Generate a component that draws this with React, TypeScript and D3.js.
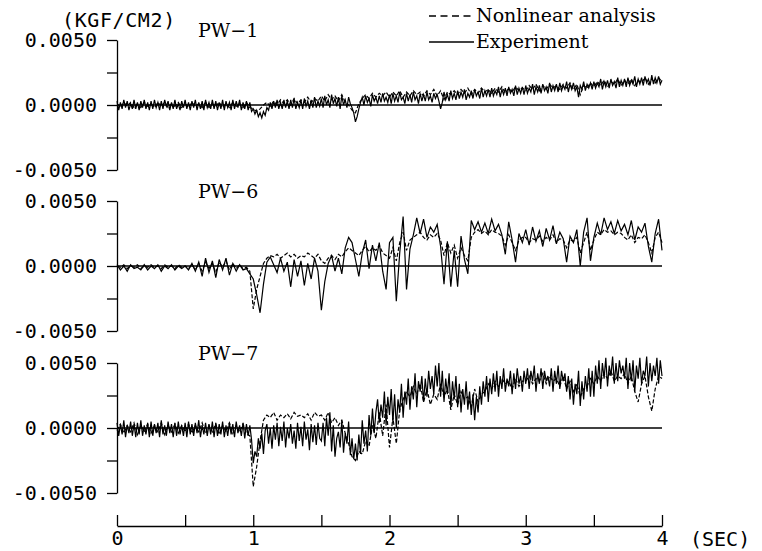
import React, { useEffect, useRef } from 'react';
import * as d3 from 'd3';

// every series is sampled evenly over 0 ... 4 s (experiment records at 0.0125 s
// for PW-1 and PW-7, the rest at 0.025 s)
const T_END = 4;
const xTicks = [0, 0.5, 1, 1.5, 2, 2.5, 3, 3.5, 4];
const xLabels = ['0', '', '1', '', '2', '', '3', '', '4'];
// values are in 1e-4 kgf/cm2
const yTicks = [-50, -25, 0, 25, 50];

const pw1Experiment = [
  3, -4, 2, -3, 4, -2, 3, -4, 1, -3, 4, -3, 2, -4, 3, -2, 4, -3, 2, -4,
  3, -3, 4, -2, 2, -4, 3, -3, 4, -1, 3, -4, 2, -3, 4, -3, 1, -4, 3, -2,
  4, -3, 2, -4, 3, -2, 4, -4, 2, -3, 3, -4, 4, -2, 2, -3, 4, -3, 3, -4,
  2, -3, 4, -4, 3, -2, 2, -4, 4, -3, 3, -2, 4, -4, 2, -3, 3, -4, 2, -5,
  -3, -7, -4, -9, -6, -10, -5, -8, -2, -4, 2, -3, 3, -2, 4, -3, 2, -3, 4, -2,
  3, -3, 4, -2, 5, -3, 2, -2, 4, -3, 5, -1, 3, -3, 4, -2, 6, -2, 3, -1,
  5, -2, 7, 0, 4, -2, 8, 1, 5, -1, 6, -3, 7, 0, 4, -2, 6, 1, -2, -6,
  -13, -9, -3, 2, 6, 0, 7, 2, 5, -1, 8, 3, 6, 1, 7, 2, 9, 3, 6, 2,
  8, 1, 9, 3, 7, 2, 10, 4, 6, 1, 9, 3, 8, 2, 10, 4, 7, 1, 9, 3,
  8, 3, 10, 4, 7, 2, 9, 5, 8, 3, -3, 2, 10, 4, 8, 3, 11, 5, 9, 4,
  11, 5, 10, 6, 12, 4, 9, 6, 11, 5, 12, 7, 10, 5, 13, 6, 11, 7, 12, 6,
  13, 7, 11, 8, 14, 6, 12, 8, 13, 7, 14, 9, 12, 7, 15, 8, 13, 9, 14, 8,
  15, 9, 13, 10, 16, 8, 14, 10, 15, 9, 16, 11, 14, 9, 17, 10, 15, 11, 16, 10,
  17, 11, 15, 12, 18, 10, 16, 12, 17, 11, 14, 6, 15, 12, 18, 11, 16, 13, 17, 12,
  18, 13, 17, 14, 20, 12, 18, 14, 19, 13, 20, 15, 18, 13, 21, 14, 19, 15, 20, 14,
  21, 15, 19, 16, 22, 14, 20, 16, 21, 15, 22, 17, 20, 15, 23, 16, 21, 17, 22, 16,
  19,
];

const pw1Analysis = [
  1, -2, 2, -1, 2, -2, 1, -2, 2, -1, 1, -2, 2, -1, 2, -2, 1, -1, 2, -2,
  1, -2, 2, -1, 1, -2, 2, -2, 1, -1, 2, -2, 1, -2, 2, -1, 1, -2, 2, -2,
  -3, -5, -3, 0, 2, -1, 3, 0, 4, 1, 4, 0, 5, 1, 4, 2, 6, 2, 5, 3,
  7, 3, 8, 4, 7, 3, 8, 2, 0, -4, -6, 1, 5, 8, 5, 9, 6, 9, 7, 10,
  6, 10, 7, 11, 6, 10, 7, 11, 8, 10, 7, 11, 8, 12, 7, 11, 4, 10, 8, 11,
  8, 12, 9, 13, 8, 12, 9, 13, 10, 12, 9, 13, 10, 14, 9, 13, 10, 14, 11, 13,
  11, 15, 12, 16, 11, 15, 12, 16, 13, 15, 12, 16, 13, 17, 12, 16, 8, 15, 13, 17,
  14, 18, 15, 19, 14, 18, 16, 20, 15, 19, 16, 20, 15, 19, 17, 21, 16, 20, 17, 21,
  18,
];

const pw6Experiment = [
  1, -3, 0, -4, 1, -2, -1, -3, 1, -3, 0, -2, 1, -4, 0, -2, 1, -3, 0, -2,
  0, -3, 2, -4, 3, -8, 6, -5, 4, -9, 5, -3, 6, -7, 2, -4, 1, -3, -2, -6,
  -10, -22, -36, -14, 3, 7, 1, -5, 6, -4, 3, -16, 5, -8, 4, -15, 2, -10, 6, -4,
  -34, -12, 2, 8, -4, 6, -6, 14, 22, 18, 5, -8, 10, 20, -2, 16, 4, 18, -4, -18,
  18, 22, -27, 10, 38, -18, 13, 24, 37, 25, 36, 22, 30, 26, 32, 15, -14, 19, -16, 12,
  -16, 23, 5, -6, 35, 28, 34, 26, 33, 25, 36, 27, 32, 24, 9, 34, 20, 3, 25, 18,
  28, 16, 30, 19, 27, 15, 29, 20, 31, 17, 26, 21, 3, 23, 18, 28, 0, 26, 37, 4,
  22, 33, 24, 37, 28, 34, 25, 35, 27, 32, 24, 35, 20, 30, 26, 33, 15, 3, 25, 36,
  12,
];

const pw6Analysis = [
  0, -1, 1, -2, 0, -1, 1, -2, 0, -1, 1, -1, 0, -2, 1, -1, 0, -2, 1, -1,
  0, -2, 1, -3, 2, -4, 3, -2, 2, -5, 3, -1, 4, -3, 2, -2, 1, -2, -1, -4,
  -33, -18, -8, 2, 6, 8, 7, 9, 6, 8, 10, 7, 9, 6, 8, 7, 10, 8, 6, 9,
  4, 2, 6, 8, 5, 9, 7, 11, 14, 12, 10, 8, 12, 15, 11, 14, 12, 16, 10, 8,
  6, 14, 4, 18, 26, 12, 20, 22, 24, 26, 22, 20, 24, 22, 25, 20, 8, 18, 10, 16,
  6, 14, 8, 4, 22, 26, 28, 25, 27, 24, 28, 26, 25, 23, 16, 24, 18, 12, 20, 22,
  22, 18, 21, 20, 23, 19, 22, 20, 24, 18, 21, 20, 14, 20, 19, 22, 10, 18, 26, 12,
  20, 26, 24, 28, 26, 27, 24, 26, 25, 22, 20, 24, 18, 22, 21, 24, 18, 10, 22, 26,
  18,
];

const pw7Experiment = [
  4, -6, 3, -5, 6, -7, 2, -4, 5, -6, 3, -7, 4, -5, 6, -6, 2, -5, 4, -7,
  5, -6, 3, -4, 4, -7, 6, -5, 2, -6, 5, -4, 3, -7, 4, -6, 5, -5, 2, -6,
  4, -7, 5, -5, 3, -6, 4, -4, 6, -7, 2, -5, 4, -6, 3, -5, 5, -7, 4, -6,
  3, -5, 5, -7, 2, -6, 4, -5, 3, -7, 5, -4, 2, -6, 4, -8, 3, -6, 2, -9,
  -27, -18, -22, -8, -16, -4, -20, -2, 3, -12, 0, -16, 2, -9, 4, -14, 1, -10, 5, -15,
  0, -8, 3, -12, -2, -16, 4, -10, 1, -14, 5, -9, -1, -17, 3, -11, 2, -13, 4, -8,
  -10, 4, -14, 8, -6, 12, -18, 2, -22, -8, -3, -15, 6, -19, -4, -12, 5, -21, -8, -24,
  -12, -25, -5, -20, 6, -12, -2, -18, 10, -6, 15, -4, 12, 22, 4, 18, 8, 28, 2, 24,
  10, 30, 4, 26, 0, 22, 12, 34, 8, 28, 18, 38, 14, 32, 22, 42, 16, 36, 28, 40,
  20, 38, 24, 44, 30, 40, 26, 48, 32, 50, 24, 44, 20, 38, 26, 42, 16, 36, 22, 40,
  16, 34, 12, 30, 18, 36, 14, 28, 10, 26, 6, 24, 12, 32, 18, 36, 24, 40, 20, 38,
  26, 42, 28, 44, 24, 40, 30, 46, 28, 38, 32, 44, 26, 42, 30, 46, 34, 40, 28, 44,
  34, 46, 30, 44, 36, 48, 28, 42, 34, 46, 30, 44, 36, 40, 32, 46, 28, 44, 34, 48,
  30, 44, 36, 42, 28, 40, 22, 38, 18, 34, 26, 44, 17, 36, 22, 40, 28, 46, 24, 44,
  24, 48, 34, 52, 30, 50, 38, 54, 32, 48, 40, 55, 34, 50, 36, 52, 42, 48, 38, 54,
  30, 50, 36, 52, 28, 48, 38, 54, 34, 44, 40, 55, 32, 50, 36, 48, 40, 54, 34, 52,
  40,
];

const pw7Analysis = [
  -2, 3, -4, 2, -3, 4, -5, 2, -3, 3, -4, 2, -3, 4, -5, 2, -3, 3, -4, 2,
  -3, 3, -4, 2, -3, 4, -4, 2, -3, 3, -5, 2, -3, 4, -4, 2, -3, 3, -4, -6,
  -45, -30, -10, 6, 10, 8, 12, 6, 10, 8, 11, 7, 12, 9, 10, 8, 11, 6, 12, 9,
  10, 6, 12, 4, 8, 2, 6, -4, -12, -22, -25, -18, -20, -10, -14, 2, -8, 12, -6, 18,
  -15, 8, -12, 14, 22, 28, 24, 32, 26, 34, 20, 30, 18, 26, 22, 34, 24, 30, 14, 26,
  18, 28, 22, 24, 16, 30, 20, 26, 28, 34, 30, 36, 32, 38, 34, 36, 30, 38, 32, 36,
  36, 40, 34, 38, 36, 42, 34, 40, 36, 38, 32, 40, 30, 36, 28, 34, 24, 30, 32, 38,
  34, 40, 36, 42, 38, 44, 36, 40, 38, 42, 34, 40, 28, 20, 34, 40, 24, 13, 30, 40,
  38,
];

const panelNames = ['PW\u22121', 'PW\u22126', 'PW\u22127'];
const experimentSeries = [pw1Experiment, pw6Experiment, pw7Experiment];
const analysisSeries = [pw1Analysis, pw6Analysis, pw7Analysis];
const legendLabels = ['Nonlinear analysis', 'Experiment'];

const MONO = '"DejaVu Sans Mono", monospace';
const SERIF = '"DejaVu Serif", serif';

function Chart() {
  const ref = useRef<SVGSVGElement | null>(null);

  useEffect(() => {
    const width = 762;
    const height = 551;
    const panelTops = [40, 201, 363];
    const panelHeight = 130;
    const axisY = 526;

    const svg = d3.select(ref.current);
    svg.selectAll('*').remove();
    svg.attr('width', width).attr('height', height);

    svg.append('rect').attr('width', width).attr('height', height).attr('fill', '#fff');

    const x = d3.scaleLinear().domain([0, T_END]).range([117, 662]);

    panelNames.forEach((name, p) => {
      const top = panelTops[p];
      const y = d3
        .scaleLinear()
        .domain([-50, 50])
        .range([top + panelHeight, top]);

      const yAxis = svg
        .append('g')
        .attr('transform', `translate(${x(0)},0)`)
        .call(
          d3
            .axisLeft(y)
            .tickValues(yTicks)
            .tickSize(10)
            .tickSizeOuter(0)
            .tickPadding(10)
            .tickFormat((d) => (Number(d) % 50 === 0 ? (Number(d) / 10000).toFixed(4) : ''))
        );
      yAxis.selectAll('path,line').attr('stroke', '#000').attr('stroke-width', 1.3);
      yAxis
        .selectAll('text')
        .attr('font-family', MONO)
        .attr('font-size', 20)
        .attr('fill', '#000');

      // zero reference line
      svg
        .append('line')
        .attr('x1', x(0))
        .attr('x2', x(T_END))
        .attr('y1', y(0))
        .attr('y2', y(0))
        .attr('stroke', '#000')
        .attr('stroke-width', 1.6);

      const line = d3
        .line<number>()
        .x((_, i, arr) => x((i * T_END) / (arr.length - 1)))
        .y((d) => y(d));

      svg
        .append('path')
        .datum(analysisSeries[p])
        .attr('fill', 'none')
        .attr('stroke', '#000')
        .attr('stroke-width', 1.2)
        .attr('stroke-dasharray', '4,2')
        .attr('d', line);

      svg
        .append('path')
        .datum(experimentSeries[p])
        .attr('fill', 'none')
        .attr('stroke', '#000')
        .attr('stroke-width', 1.2)
        .attr('d', line);

      svg
        .append('text')
        .attr('x', 198)
        .attr('y', top - 3)
        .attr('font-family', SERIF)
        .attr('font-size', 19)
        .attr('fill', '#000')
        .text(name);
    });

    // time axis
    const xAxis = svg
      .append('g')
      .attr('transform', `translate(0,${axisY})`)
      .call(
        d3
          .axisBottom(x)
          .tickValues(xTicks)
          .tickSize(-11)
          .tickSizeOuter(0)
          .tickPadding(5)
          .tickFormat((_, i) => xLabels[i])
      );
    xAxis.selectAll('path,line').attr('stroke', '#000').attr('stroke-width', 1.3);
    xAxis
      .selectAll('text')
      .attr('font-family', MONO)
      .attr('font-size', 20)
      .attr('fill', '#000');

    svg
      .append('text')
      .attr('x', 690)
      .attr('y', axisY + 20)
      .attr('font-family', MONO)
      .attr('font-size', 20)
      .text('(SEC)');

    svg
      .append('text')
      .attr('x', 62)
      .attr('y', 27)
      .attr('font-family', MONO)
      .attr('font-size', 20)
      .attr('letter-spacing', 0.6)
      .text('(KGF/CM2)');

    // legend
    legendLabels.forEach((label, i) => {
      const ly = 22 + i * 26;
      svg
        .append('line')
        .attr('x1', 429)
        .attr('x2', 474)
        .attr('y1', ly - 6)
        .attr('y2', ly - 6)
        .attr('stroke', '#000')
        .attr('stroke-width', 1.3)
        .attr('stroke-dasharray', i === 0 ? '7,4.5' : null);
      svg
        .append('text')
        .attr('x', 476)
        .attr('y', ly)
        .attr('font-family', SERIF)
        .attr('font-size', 19)
        .attr('fill', '#000')
        .text(label);
    });
  }, []);

  return <svg ref={ref} style={{ position: 'absolute', left: 0, top: 0, display: 'block' }} />;
}

export default function App() {
  return <Chart />;
}
